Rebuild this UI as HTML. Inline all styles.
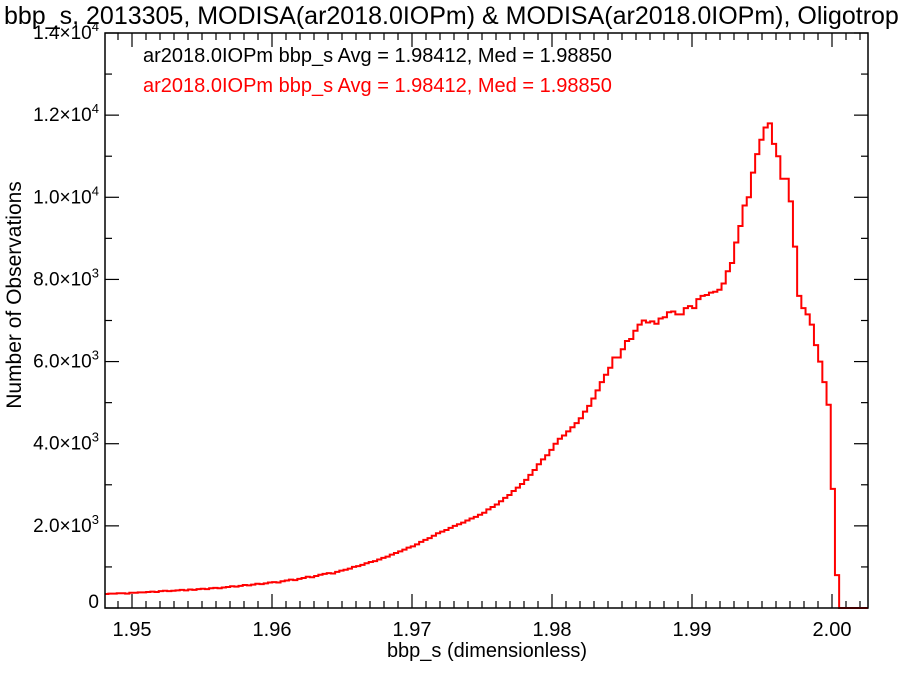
<!DOCTYPE html>
<html><head><meta charset="utf-8"><style>
html,body{margin:0;padding:0;background:#fff;}
svg{display:block;font-family:"Liberation Sans",Arial,sans-serif;}
</style></head><body>
<svg id="chart" width="900" height="675" viewBox="0 0 900 675">
<defs><clipPath id="pc"><rect x="105" y="33" width="763" height="576"/></clipPath></defs>
<text x="4" y="24" font-size="25" fill="#000">bbp_s, 2013305, MODISA(ar2018.0IOPm) &amp; MODISA(ar2018.0IOPm), Oligotrophic</text>
<g id="axes"></g>
<g id="series" clip-path="url(#pc)"></g>
<rect x="105" y="33" width="763" height="575" fill="none" stroke="#000" stroke-width="1.5"/>
<text x="143" y="62" font-size="20" fill="#000">ar2018.0IOPm bbp_s Avg = 1.98412, Med = 1.98850</text>
<text x="143" y="92" font-size="20" fill="#ff0000">ar2018.0IOPm bbp_s Avg = 1.98412, Med = 1.98850</text>
<text x="487" y="657" font-size="20" text-anchor="middle">bbp_s (dimensionless)</text>
<text transform="translate(21,295) rotate(-90)" font-size="21" text-anchor="middle">Number of Observations</text>
</svg>
<script>
const binStart = 1.94801;
const binWidth = 0.0003;
const countsK = [
0.34,0.35,0.35,0.36,0.36,0.35,0.37,0.37,0.38,0.38,
0.39,0.40,0.39,0.41,0.42,0.41,0.42,0.43,0.44,0.43,
0.45,0.44,0.46,0.47,0.46,0.48,0.49,0.48,0.50,0.51,
0.53,0.52,0.54,0.56,0.55,0.57,0.59,0.58,0.60,0.62,
0.63,0.62,0.65,0.67,0.69,0.68,0.71,0.73,0.76,0.75,
0.78,0.81,0.83,0.85,0.84,0.88,0.91,0.93,0.96,1.00,
1.02,1.05,1.09,1.12,1.14,1.18,1.22,1.25,1.30,1.34,
1.38,1.42,1.47,1.50,1.55,1.61,1.66,1.70,1.76,1.82,
1.86,1.90,1.95,2.00,2.04,2.08,2.13,2.18,2.22,2.27,
2.32,2.40,2.46,2.52,2.60,2.68,2.75,2.85,2.93,3.02,
3.12,3.24,3.36,3.50,3.62,3.72,3.85,4.00,4.12,4.20,
4.30,4.40,4.50,4.62,4.78,4.92,5.10,5.30,5.50,5.68,
5.85,6.10,6.10,6.30,6.50,6.55,6.75,6.90,7.00,6.95,
6.98,6.92,7.05,7.08,7.20,7.22,7.15,7.15,7.30,7.35,
7.30,7.52,7.60,7.62,7.68,7.70,7.75,7.90,8.20,8.40,
8.90,9.30,9.80,10.00,10.60,11.05,11.40,11.70,11.80,11.30,
11.0,10.45,10.45,9.9,8.8,7.6,7.3,7.15,6.9,6.4,
6.0,5.5,4.95,2.9,0.8,0,0,0,0,0,0,0,0
];
const xTicks = [1.95,1.96,1.97,1.98,1.99,2.00];
const xTickLabels = ["1.95","1.96","1.97","1.98","1.99","2.00"];
const yTicks = [0,2000,4000,6000,8000,10000,12000,14000];
const yTickMant = ["0","2.0","4.0","6.0","8.0","1.0","1.2","1.4"];
const yTickExp = ["","3","3","3","3","4","4","4"];

const X0=105,X1=868,Y0=608,Y1=33;
const xMin=1.95-27/14000, xMax=xMin+(X1-X0)/14000;
const yMin=0,yMax=14000;
const xs=v=>X0+(v-xMin)/(xMax-xMin)*(X1-X0);
const ys=v=>Y0-(v-yMin)/(yMax-yMin)*(Y0-Y1);
const NS="http://www.w3.org/2000/svg";
const axes=document.getElementById('axes');
function mk(t,a,p){const e=document.createElementNS(NS,t);for(const k in a)e.setAttribute(k,a[k]);p.appendChild(e);return e;}

for(let i=-2;i<=52;i++){
  const v=1.95+i*0.001; const x=xs(v);
  if(x<X0||x>X1) continue;
  const major=(i%10===0); const L=major?14:7;
  const t1=mk('line',{x1:x,x2:x,y1:Y0,y2:Y0-L,stroke:'#000','stroke-width':1.2},axes);
  
  
  const t2=mk('line',{x1:x,x2:x,y1:Y1,y2:Y1+L,stroke:'#000','stroke-width':1.2},axes);
  
  
}
xTicks.forEach((v,i)=>{
  const t=mk('text',{x:xs(v),y:636,'font-size':20,'text-anchor':'middle'},axes);
  t.textContent=xTickLabels[i];
  
  
});
for(let v=0;v<=14000;v+=1000){
  const y=ys(v); const major=(v%2000===0); const L=major?14:7;
  const a=mk('line',{x1:X0,x2:X0+L,y1:y,y2:y,stroke:'#000','stroke-width':1.2},axes);
  
  
  const b=mk('line',{x1:X1,x2:X1-L,y1:y,y2:y,stroke:'#000','stroke-width':1.2},axes);
  
  
}
yTicks.forEach((v,i)=>{
  const t=mk('text',{x:99,y:ys(v)+(v===0?0:6),'font-size':19,'text-anchor':'end'},axes);
  
  
  if(yTickExp[i]===''){ t.textContent=yTickMant[i]; return; }
  const s1=mk('tspan',{},t); s1.textContent=yTickMant[i]+'×10';
  const s2=mk('tspan',{dy:-8,'font-size':13},t); s2.textContent=yTickExp[i];
});
let d='';
countsK.forEach((c,k)=>{
  const xa=xs(binStart+k*binWidth), xb=xs(binStart+(k+1)*binWidth), y=ys(c*1000);
  d+=(k===0?'M':'L')+xa.toFixed(2)+','+y.toFixed(2)+'L'+xb.toFixed(2)+','+y.toFixed(2);
});
const p=mk('path',{d:d,fill:'none',stroke:'#ff0000','stroke-width':2},document.getElementById('series'));


</script>
</body></html>
